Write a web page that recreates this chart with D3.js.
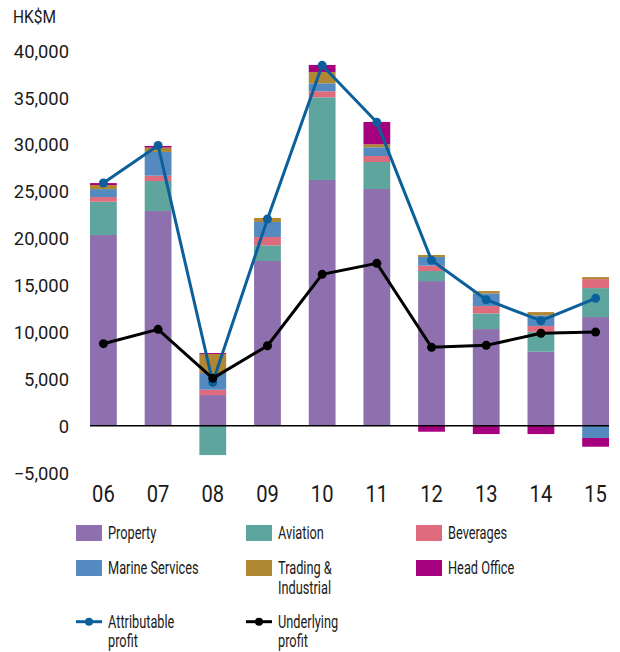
<!DOCTYPE html>
<html>
<head>
<meta charset="utf-8">
<script src="https://cdn.jsdelivr.net/npm/d3@7/dist/d3.min.js"></script>
<style>
  body { margin: 0; background: #fff; }
  text { font-family: "Roboto", "Noto Sans", sans-serif; fill: #1a1a1a; }
</style>
</head>
<body>
<svg id="chart" width="620" height="652"></svg>
<script>
// Years and segment values (HK$M)
const years = ["06", "07", "08", "09", "10", "11", "12", "13", "14", "15"];
const property = [20340, 22900, 3270, 17570, 26210, 25250, 15430, 10310, 7890, 11590];
const aviation = [3550, 3200, -3130, 1670, 8820, 2880, 1070, 1670, 2130, 3090];
const beverages = [500, 570, 570, 890, 640, 640, 570, 780, 610, 960];
const marine = [850, 2530, 1780, 1600, 850, 930, 930, 1350, 1140, -1310];
const trading = [430, 460, 2030, 430, 1210, 320, 210, 250, 350, 210];
const headOffice = [210, 180, 100, 0, 750, 2380, -640, -890, -890, -930];
const attributable = [25890, 29900, 4630, 22050, 38440, 32360, 17640, 13440, 11200, 13590];
const underlying = [8750, 10280, 5060, 8530, 16150, 17320, 8360, 8570, 9860, 9990];
const yTicks = [-5000, 0, 5000, 10000, 15000, 20000, 25000, 30000, 35000, 40000];

const segments = [
  { name: ["Property"], values: property, color: "#8e70ae" },
  { name: ["Aviation"], values: aviation, color: "#5ea59e" },
  { name: ["Beverages"], values: beverages, color: "#de6c7c" },
  { name: ["Marine Services"], values: marine, color: "#558ac1" },
  { name: ["Trading &", "Industrial"], values: trading, color: "#b08732" },
  { name: ["Head Office"], values: headOffice, color: "#a5007d" }
];

const svg = d3.select("#chart");

// the original uses a condensed face, so squeeze text horizontally
function label(g, x, y, lines, size, sx, anchor) {
  const t = g.append("text")
    .attr("transform", `translate(${x},${y}) scale(${sx},1)`)
    .attr("font-size", size)
    .attr("text-anchor", anchor || "start");
  lines.forEach((ln, j) => {
    t.append("tspan").attr("x", 0).attr("dy", j === 0 ? 0 : 19.3).text(ln);
  });
  return t;
}

// Scales
const x = d3.scaleBand().domain(years).range([90, 609]).paddingInner(0.51).paddingOuter(0);
const y = d3.scaleLinear().domain([-5000, 40000]).range([472.6, 50.7]);

// Stack positive and negative parts separately
const rows = years.map((yr, i) => {
  const row = { year: yr };
  segments.forEach((s, k) => { row[k] = s.values[i]; });
  return row;
});
const series = d3.stack()
  .keys(segments.map((s, k) => k))
  .offset(d3.stackOffsetDiverging)(rows);

svg.append("g").selectAll("g")
  .data(series)
  .join("g")
  .attr("fill", (d, i) => segments[i].color)
  .selectAll("rect")
  .data(d => d)
  .join("rect")
  .attr("x", d => x(d.data.year))
  .attr("width", x.bandwidth())
  .attr("y", d => y(d[1]))
  .attr("height", d => Math.max(0, y(d[0]) - y(d[1])));

// Zero line
svg.append("line")
  .attr("x1", x.range()[0]).attr("x2", x.range()[1])
  .attr("y1", y(0)).attr("y2", y(0))
  .attr("stroke", "#000").attr("stroke-width", 1.5);

// Y tick labels
const yAxis = svg.append("g");
yTicks.forEach(v => label(yAxis, 69, y(v) + 7, [d3.format(",")(v)], 18, 1.02, "end"));

label(svg, 13, 23, ["HK$M"], 18, 0.86);

// X tick labels
const xAxis = svg.append("g");
years.forEach(yr => label(xAxis, x(yr) + x.bandwidth() / 2, 502, [yr], 24, 0.84, "middle"));

// Profit lines
const lineGen = d3.line()
  .x((d, i) => x(years[i]) + x.bandwidth() / 2)
  .y(d => y(d));

[[attributable, "#0b609b"], [underlying, "#000"]].forEach(([vals, col]) => {
  svg.append("path")
    .datum(vals)
    .attr("d", lineGen)
    .attr("fill", "none")
    .attr("stroke", col)
    .attr("stroke-width", 3);
  svg.append("g").selectAll("circle")
    .data(vals)
    .join("circle")
    .attr("cx", (d, i) => x(years[i]) + x.bandwidth() / 2)
    .attr("cy", d => y(d))
    .attr("r", 4.5)
    .attr("fill", col);
});

// Legend
const legendCols = [76, 246, 416];
const legendRows = [525, 560];
const legend = svg.append("g");

segments.forEach((s, i) => {
  const lx = legendCols[i % 3];
  const ly = legendRows[Math.floor(i / 3)];
  legend.append("rect")
    .attr("x", lx).attr("y", ly)
    .attr("width", 26).attr("height", 16)
    .attr("fill", s.color);
  label(legend, lx + 32, ly + 14.3, s.name, 17.5, 0.73);
});

const lineItems = [
  { name: ["Attributable", "profit"], color: "#0b609b" },
  { name: ["Underlying", "profit"], color: "#000" }
];
lineItems.forEach((l, i) => {
  const lx = legendCols[i];
  const ly = 621.7;
  legend.append("line")
    .attr("x1", lx).attr("x2", lx + 26)
    .attr("y1", ly).attr("y2", ly)
    .attr("stroke", l.color).attr("stroke-width", 3);
  legend.append("circle")
    .attr("cx", lx + 13).attr("cy", ly).attr("r", 4)
    .attr("fill", l.color);
  label(legend, lx + 32, 627.7, l.name, 17.5, 0.73);
});
</script>
</body>
</html>
